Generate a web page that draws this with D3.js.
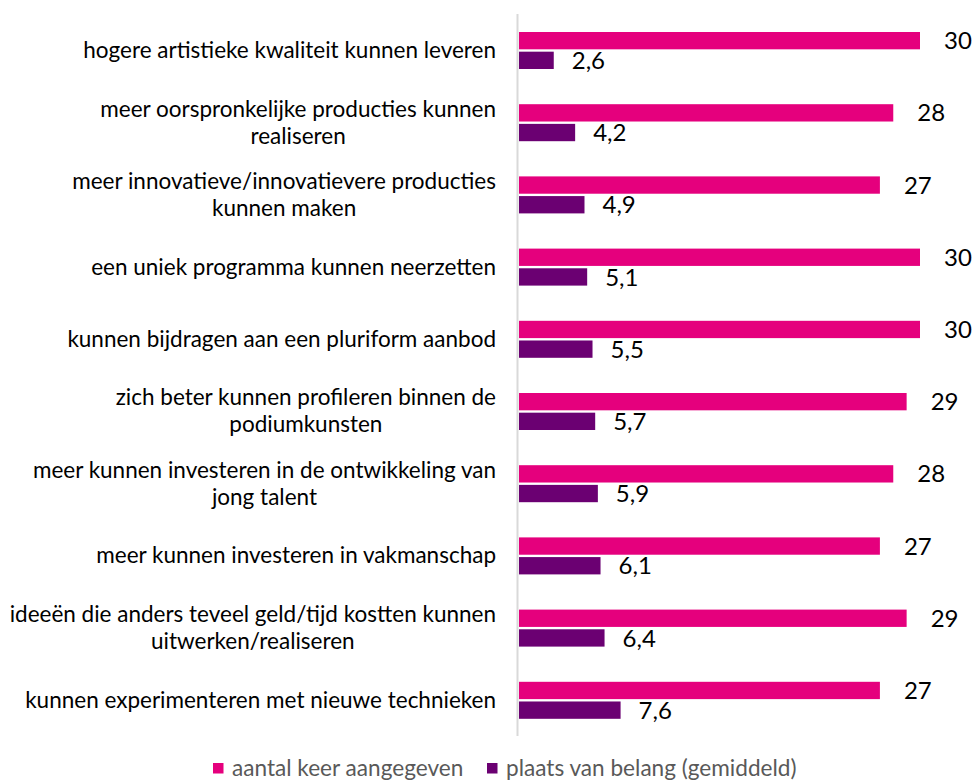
<!DOCTYPE html>
<html>
<head>
<meta charset="utf-8">
<script src="https://cdn.jsdelivr.net/npm/d3@7"></script>
<style>
  body { margin: 0; background: #fff; }
  svg { display: block; font-family: Lato, "Open Sans", sans-serif; }
</style>
</head>
<body>
<div id="chart"></div>
<script>
// categories (lines as wrapped in the original axis)
const categories = [
  ["hogere artistieke kwaliteit kunnen leveren"],
  ["meer oorspronkelijke producties kunnen", "realiseren"],
  ["meer innovatieve/innovatievere producties", "kunnen maken"],
  ["een uniek programma kunnen neerzetten"],
  ["kunnen bijdragen aan een pluriform aanbod"],
  ["zich beter kunnen profileren binnen de", "podiumkunsten"],
  ["meer kunnen investeren in de ontwikkeling van", "jong talent"],
  ["meer kunnen investeren in vakmanschap"],
  ["ideeën die anders teveel geld/tijd kostten kunnen", "uitwerken/realiseren"],
  ["kunnen experimenteren met nieuwe technieken"]
];
const seriesNames = ["aantal keer aangegeven", "plaats van belang (gemiddeld)"];
const aantal = [30, 28, 27, 30, 30, 29, 28, 27, 29, 27];
const plaats = [2.6, 4.2, 4.9, 5.1, 5.5, 5.7, 5.9, 6.1, 6.4, 7.6];
const colours = ["#E5007D", "#6B0072"];

const width = 973, height = 780;

const svg = d3.select("#chart").append("svg")
  .attr("width", width)
  .attr("height", height);

const rows = categories.map((c, i) => ({
  key: i,
  lines: c,
  values: [aantal[i], plaats[i]]
}));

// scales
const y = d3.scaleBand()
  .domain(rows.map(d => d.key))
  .range([14, 736]);

const y1 = d3.scaleBand()
  .domain([0, 1])
  .range([18, 55])
  .paddingInner(0.12);

const x = d3.scaleLinear()
  .domain([0, 30])
  .range([519, 920]);

// vertical axis line
svg.append("line")
  .attr("x1", 517.5).attr("x2", 517.5)
  .attr("y1", y.range()[0]).attr("y2", y.range()[1])
  .attr("stroke", "#D9D9D9")
  .attr("stroke-width", 2);

// bar groups
const group = svg.selectAll(".row")
  .data(rows)
  .enter().append("g")
    .attr("class", "row")
    .attr("transform", d => `translate(0,${y(d.key)})`);

group.selectAll("rect")
  .data(d => d.values.map((v, j) => ({v, j})))
  .enter().append("rect")
    .attr("x", x(0))
    .attr("y", d => y1(d.j))
    .attr("width", d => x(d.v) - x(0))
    .attr("height", y1.bandwidth())
    .attr("fill", d => colours[d.j]);

// value labels
const fmt = v => String(v).replace(".", ",");
group.selectAll(".val")
  .data(d => d.values.map((v, j) => ({v, j})))
  .enter().append("text")
    .attr("class", "val")
    .attr("x", d => x(d.v) + (d.j === 0 ? 24 : 18))
    .attr("y", d => y1(d.j) + y1.bandwidth() / 2)
    .attr("dy", "0.36em")
    .attr("font-size", 24)
    .attr("fill", "#000")
    .text(d => fmt(d.v));

// category labels, lines centred, block right aligned
const lineH = 27;
const labelRight = 496;
group.each(function(d) {
  const g = d3.select(this);
  const cy = y.bandwidth() / 2;
  const n = d.lines.length;
  const t = g.append("g").attr("class", "cat");
  const texts = d.lines.map((line, k) =>
    t.append("text")
      .attr("text-anchor", "middle")
      .attr("y", cy + (k - (n - 1) / 2) * lineH)
      .attr("dy", "0.35em")
      .attr("font-size", 22.5)
      .attr("fill", "#000")
      .text(line)
  );
  const maxW = d3.max(texts, s => s.node().getComputedTextLength());
  texts.forEach(s => s.attr("x", labelRight - maxW / 2));
});

// legend
const legendItems = [
  {name: seriesNames[0], colour: colours[0], x: 213},
  {name: seriesNames[1], colour: colours[1], x: 487}
];
const legend = svg.selectAll(".legend")
  .data(legendItems)
  .enter().append("g")
    .attr("class", "legend")
    .attr("transform", d => `translate(${d.x},768.5)`);

legend.append("rect")
  .attr("x", 0).attr("y", -5.5)
  .attr("width", 10.5).attr("height", 10.5)
  .attr("fill", d => d.colour);

legend.append("text")
  .attr("x", 19)
  .attr("dy", "0.35em")
  .attr("font-size", 22.6)
  .attr("fill", "#595959")
  .text(d => d.name);
</script>
</body>
</html>
